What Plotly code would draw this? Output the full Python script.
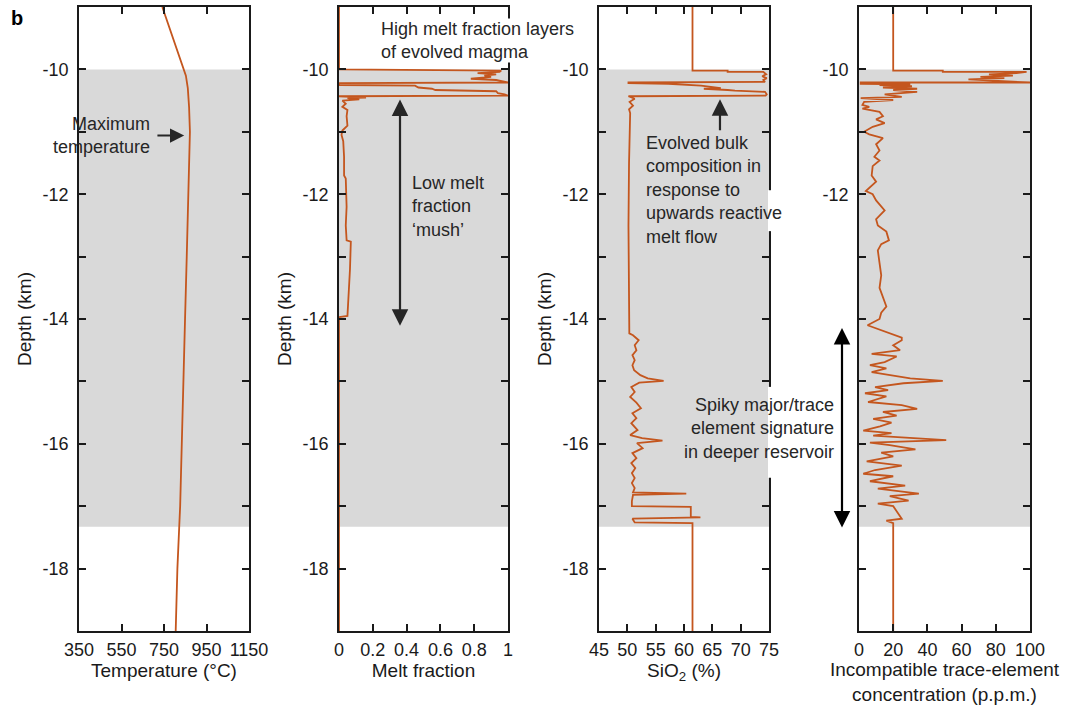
import plotly.graph_objects as go

# ---------------- data ----------------
# Temperature profile
temp_depth = [-9.0, -9.25, -9.5, -9.75, -10.0, -10.1, -10.3, -10.6, -11.0, -11.5,
              -12.0, -13.0, -14.0, -15.0, -16.0, -17.0, -17.3, -18.0, -19.0]
temp_c = [742, 768, 794, 820, 845, 853, 862, 868, 872, 869,
          865, 857, 849, 842, 835, 826, 822, 813, 805]

# Melt fraction profile
melt_depth = [-9.0, -10.0, -10.02, -10.04, -10.06, -10.08, -10.1, -10.12, -10.15, -10.17,
              -10.19, -10.21, -10.22, -10.25, -10.26, -10.29, -10.31, -10.33, -10.35, -10.38,
              -10.4, -10.42, -10.43, -10.45, -10.46, -10.48, -10.5, -10.55, -10.6, -10.65,
              -10.75, -10.9, -10.98, -11.05, -11.15, -11.4, -11.7, -11.75, -12.2, -12.5,
              -12.74, -12.76, -13.2, -13.5, -13.7, -13.95, -13.97, -19.0]
melt_frac = [0.0, 0.0, 0.96, 0.95, 0.82, 0.93, 0.86, 0.9, 0.78, 0.93,
             0.97, 1.0, 0.0, 0.0, 0.45, 0.47, 0.55, 0.57, 0.93, 0.94,
             0.98, 1.0, 0.0, 0.16, 0.05, 0.12, 0.02, 0.04, 0.02, 0.05,
             0.045, 0.05, 0.02, 0.015, 0.025, 0.03, 0.03, 0.04, 0.045, 0.04,
             0.045, 0.07, 0.065, 0.06, 0.055, 0.05, 0.0, 0.0]

# Bulk SiO2 profile
sio2_depth = [-9.0, -10.02, -10.02, -10.04, -10.04, -10.08, -10.11, -10.14, -10.17, -10.2,
              -10.21, -10.22, -10.23, -10.26, -10.3, -10.31, -10.33, -10.34, -10.36, -10.4,
              -10.42, -10.43, -10.47, -10.52, -10.58, -10.64, -10.7, -11.5, -12.5, -13.5,
              -14.23, -14.26, -14.34, -14.42, -14.5, -14.58, -14.66, -14.74, -14.82, -14.9,
              -14.95, -14.99, -15.02, -15.09, -15.17, -15.25, -15.34, -15.43, -15.51, -15.59,
              -15.67, -15.78, -15.86, -15.91, -15.95, -15.99, -16.07, -16.15, -16.23, -16.31,
              -16.39, -16.47, -16.55, -16.63, -16.71, -16.78, -16.8, -16.82, -16.92, -17.0,
              -17.01, -17.17, -17.18, -17.2, -17.26, -17.27, -19.0]
sio2_pct = [61.5, 61.5, 67.7, 67.7, 74.0, 74.5, 73.8, 74.6, 74.0, 74.3,
            50.2, 50.2, 57.2, 63.0, 66.5, 63.5, 67.7, 69.0, 74.3, 74.6,
            74.4, 50.2, 51.3, 50.4, 51.0, 50.3, 50.5, 50.3, 50.2, 50.3,
            50.35, 51.0, 52.0, 51.3, 51.6, 50.9, 51.3, 50.9, 51.2, 52.3,
            53.6, 56.4, 52.1, 50.7, 51.3, 50.5, 51.6, 52.4, 50.9, 51.6,
            50.7, 51.8, 50.5, 52.6, 56.2, 51.7, 52.7, 50.9, 51.6, 50.7,
            51.4, 50.8, 51.3, 50.8, 51.3, 51.0, 60.4, 51.0, 50.8, 50.8,
            61.2, 61.2, 62.9, 50.9, 51.3, 61.5, 61.5]

# Incompatible trace-element concentration profile
trace_depth = [-9.0, -10.02, -10.02, -10.04, -10.04, -10.06, -10.08, -10.1, -10.12, -10.14,
               -10.16, -10.18, -10.2, -10.21, -10.21, -10.23, -10.24, -10.25, -10.27, -10.29,
               -10.31, -10.33, -10.36, -10.4, -10.44, -10.46, -10.49, -10.52, -10.57, -10.6,
               -10.63, -10.68, -10.75, -10.8, -10.86, -10.92, -11.0, -11.04, -11.1, -11.2,
               -11.3, -11.4, -11.46, -11.55, -11.7, -11.8, -11.95, -12.0, -12.1, -12.26,
               -12.4, -12.5, -12.6, -12.74, -12.8, -12.9, -13.1, -13.3, -13.5, -13.65,
               -13.8, -13.9, -14.0, -14.1, -14.15, -14.2, -14.3, -14.34, -14.42, -14.5,
               -14.56, -14.6, -14.69, -14.74, -14.79, -14.85, -14.9, -14.95, -14.99, -15.03,
               -15.09, -15.14, -15.19, -15.24, -15.33, -15.38, -15.44, -15.49, -15.55, -15.6,
               -15.66, -15.72, -15.79, -15.83, -15.87, -15.94, -15.98, -16.02, -16.09, -16.14,
               -16.2, -16.28, -16.35, -16.42, -16.48, -16.52, -16.6, -16.67, -16.72, -16.8,
               -16.84, -16.91, -16.96, -17.0, -17.2, -17.23, -17.27, -19.0]
trace_ppm = [20, 20, 49, 49, 98, 92, 76, 90, 71, 85,
             64, 80, 100, 100, 1, 1, 30, 12, 31, 14,
             34, 20, 34, 15, 25, 1, 20, 3, 2, 6,
             2, 12, 14, 10, 15, 8, 3, 6, 14, 10,
             12, 9, 12, 8, 7.4, 10, 4, 8, 10, 15,
             10, 11, 16, 17.5, 13, 11, 12, 13, 12, 14,
             16, 13, 12, 5, 10, 16, 25, 25, 20, 24,
             7.4, 22, 15, 6.4, 16, 7.4, 18, 30, 49, 26,
             9.4, 17, 3.5, 16, 5.3, 25, 34, 14, 22, 8.3,
             19, 12.3, 2.5, 19, 8.3, 51, 6.4, 18, 33, 13,
             20, 4.5, 25, 9.4, 2.5, 20, 6.4, 27, 11, 35,
             18, 29, 11, 20, 25, 16, 20, 20]

# Axis ticks
temp_ticks = [350, 550, 750, 950, 1150]
melt_ticks = [0, 0.2, 0.4, 0.6, 0.8, 1]
melt_labels = ["0", "0.2", "0.4", "0.6", "0.8", "1"]
sio2_ticks = [45, 50, 55, 60, 65, 70, 75]
trace_ticks = [0, 20, 40, 60, 80, 100]
depth_ticks = [-18, -17, -16, -15, -14, -13, -12, -11, -10]
depth_labels = ["-18", "", "-16", "", "-14", "", "-12", "", "-10"]
depth_labels_last = ["", "", "", "", "", "", "-12", "", "-10"]
reservoir_top, reservoir_base = -10.0, -17.33

# ---------------- styling ----------------
W, H = 1065, 705
FONT = "Liberation Sans, Arial, sans-serif"
LINE_C = "#c4561e"
TXT_C = "#262626"
AX_C = "#1a1a1a"
GREY = "#d9d9d9"
FS = 18
FT = 19

def px_x(p):
    return p / W

# panel pixel extents (left, right)
panels = [(79, 249), (339, 508), (599, 769), (859, 1030)]
ydom = [(H - 631) / H, (H - 7) / H]

fig = go.Figure()

series = [
    (temp_c, temp_depth),
    (melt_frac, melt_depth),
    (sio2_pct, sio2_depth),
    (trace_ppm, trace_depth),
]
for i, (xv, yv) in enumerate(series):
    sfx = "" if i == 0 else str(i + 1)
    fig.add_trace(go.Scatter(
        x=xv, y=yv, mode="lines", xaxis="x" + sfx, yaxis="y" + sfx,
        line=dict(color=LINE_C, width=1.8), showlegend=False, hoverinfo="skip",
    ))

xranges = [(350, 1150), (0, 1), (45, 75), (0, 100)]
xtickv = [temp_ticks, melt_ticks, sio2_ticks, trace_ticks]
xtickt = [[str(t) for t in temp_ticks], melt_labels, [str(t) for t in sio2_ticks],
          [str(t) for t in trace_ticks]]
xtitles = ["Temperature (°C)", "Melt fraction", "SiO<sub>2</sub> (%)",
           "Incompatible trace-element<br>concentration (p.p.m.)"]

layout = dict(
    width=W, height=H,
    margin=dict(l=0, r=0, t=0, b=0, autoexpand=False),
    paper_bgcolor="white", plot_bgcolor="white",
    font=dict(family=FONT, size=FS, color=AX_C),
    showlegend=False,
)

for i in range(4):
    sfx = "" if i == 0 else str(i + 1)
    l, r = panels[i]
    layout["xaxis" + sfx] = dict(
        domain=[px_x(l), px_x(r)], range=list(xranges[i]), anchor="y" + sfx,
        tickmode="array", tickvals=xtickv[i], ticktext=xtickt[i],
        ticks="inside", ticklen=7, tickwidth=1.5, tickcolor=AX_C,
        showline=True, linecolor=AX_C, linewidth=1.8, mirror="ticks",
        showgrid=False, zeroline=False, fixedrange=True, automargin=False,
        tickfont=dict(size=FS, family=FONT, color=AX_C),
        ticklabelstandoff=1,
        title=dict(text=xtitles[i], font=dict(size=FT, family=FONT, color=AX_C), standoff=5),
    )
    layout["yaxis" + sfx] = dict(
        domain=ydom, range=[-19, -9], anchor="x" + sfx,
        tickmode="array", tickvals=depth_ticks,
        ticktext=depth_labels_last if i == 3 else depth_labels,
        ticks="inside", ticklen=7, tickwidth=1.5, tickcolor=AX_C,
        showline=True, linecolor=AX_C, linewidth=1.8, mirror="ticks",
        showgrid=False, zeroline=False, fixedrange=True, automargin=False,
        tickfont=dict(size=FS, family=FONT, color=AX_C),
        ticklabelstandoff=5,
        title=dict(text="Depth (km)" if i < 3 else "",
                   font=dict(size=FT, family=FONT, color=AX_C), standoff=6),
    )

fig.update_layout(**layout)

# shaded reservoir interval in every panel
shapes = []
for i in range(4):
    sfx = "" if i == 0 else str(i + 1)
    shapes.append(dict(
        type="rect", xref="x" + sfx + " domain", yref="y" + sfx,
        x0=0, x1=1, y0=reservoir_base, y1=reservoir_top,
        fillcolor=GREY, line=dict(width=0), layer="below",
    ))

# breaks in the SiO2 panel's right frame where the labels cross it
def frame_break(y_top_px, y_bot_px):
    d0 = -10 - (y_top_px - 69) / 62.5
    d1 = -10 - (y_bot_px - 69) / 62.5
    return [
        dict(type="rect", xref="paper", yref="y3", x0=px_x(760.5), x1=px_x(768.0),
             y0=d1, y1=d0, fillcolor=GREY, line=dict(width=0), layer="above"),
        dict(type="rect", xref="paper", yref="y3", x0=px_x(768.0), x1=px_x(772),
             y0=d1, y1=d0, fillcolor="white", line=dict(width=0), layer="above"),
    ]

shapes += frame_break(190, 231)
shapes += frame_break(387, 478)
fig.update_layout(shapes=shapes)

ann = []
# panel letter
ann.append(dict(text="<b>b</b>", xref="paper", yref="paper", x=px_x(9), y=1 - 18 / H,
                xanchor="left", yanchor="middle", showarrow=False,
                font=dict(size=20, family=FONT, color="black")))

txt_font = dict(size=FS, family=FONT, color=TXT_C)

# panel 1
ann.append(dict(text="Maximum<br>temperature", xref="x", yref="y", x=693, y=-11.06,
                xanchor="right", yanchor="middle", align="right", showarrow=False,
                font=txt_font))
ann.append(dict(text="", xref="x", yref="y", x=845, y=-11.06, axref="x", ayref="y",
                ax=712, ay=-11.06, showarrow=True, arrowhead=2, arrowsize=1.35,
                arrowwidth=2.1, arrowcolor=TXT_C, standoff=0))

# panel 2
ann.append(dict(text="High melt fraction layers<br>of evolved magma", xref="x2", yref="y2",
                x=0.243, y=-9.536, xanchor="left", yanchor="middle", align="left",
                showarrow=False, bgcolor="white", borderpad=0, font=txt_font))
ann.append(dict(text="Low melt<br>fraction<br>‘mush’", xref="x2", yref="y2", x=0.42, y=-12.19,
                xanchor="left", yanchor="middle", align="left", showarrow=False,
                font=txt_font))
ann.append(dict(text="", xref="x2", yref="y2", x=0.361, y=-14.11, axref="x2", ayref="y2",
                ax=0.361, ay=-10.46, showarrow=True, arrowhead=2, arrowside="end+start",
                arrowsize=1.5, arrowwidth=2.2, arrowcolor=TXT_C, standoff=0, startstandoff=0))

# panel 3
ann.append(dict(text="", xref="x3", yref="y3", x=66.35, y=-10.48, axref="x3", ayref="y3",
                ax=66.35, ay=-11.0, showarrow=True, arrowhead=2, arrowsize=1.5,
                arrowwidth=2.2, arrowcolor=TXT_C, standoff=0))
ann.append(dict(text="Evolved bulk<br>composition in<br>response to<br>upwards reactive<br>melt flow",
                xref="x3", yref="y3", x=52.9, y=-11.94, xanchor="left", yanchor="middle",
                align="left", showarrow=False, font=txt_font))
ann.append(dict(text="Spiky major/trace<br>element signature<br>in deeper reservoir",
                xref="paper", yref="y3", x=px_x(836), y=-15.76, xanchor="right",
                yanchor="middle", align="right", showarrow=False, font=txt_font))

# panel 4 bracket arrow
ann.append(dict(text="", xref="paper", yref="y4", x=px_x(842), y=-17.34, axref="pixel",
                ayref="pixel", ax=0, ay=-201, showarrow=True, arrowhead=2,
                arrowside="end+start", arrowsize=1.5, arrowwidth=2.2, arrowcolor="black",
                standoff=0, startstandoff=0))

fig.update_layout(annotations=ann)

fig.write_html("out.html")
